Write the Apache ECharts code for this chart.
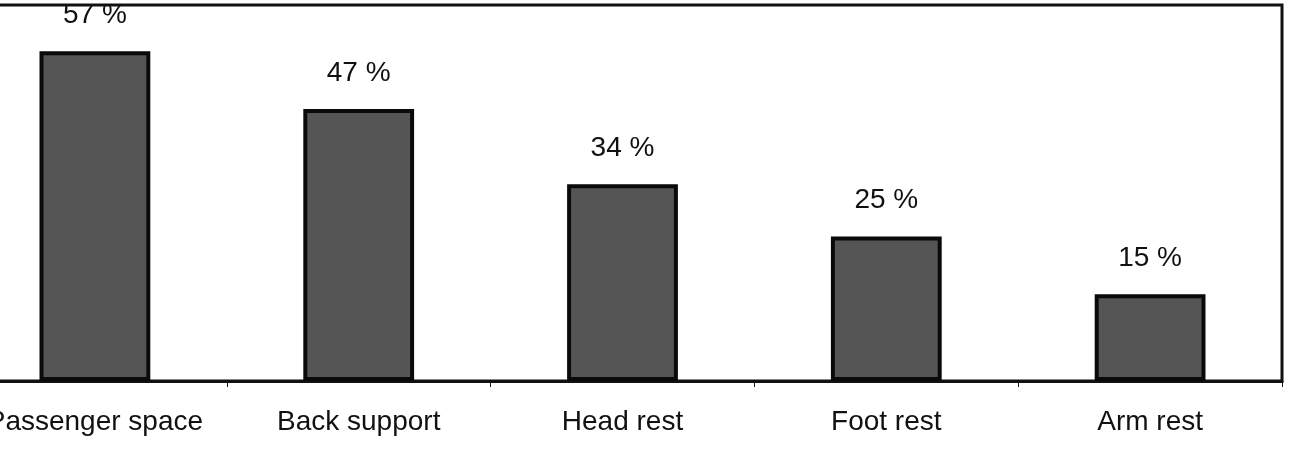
<!DOCTYPE html>
<html>
<head>
<meta charset="UTF-8">
<title>Seat comfort</title>
<script type="text/javascript" src="https://cdn.jsdelivr.net/npm/echarts@6/dist/echarts.min.js"></script>
<style>body{margin:0;background:#fff;overflow:hidden;}</style>
</head>
<body>
<!-- plot area starts left of the visible window, so shift the chart -->
<div id="mychart" style="width:1331px;height:450px;margin-left:-37px;"></div>
<script type="text/javascript">
var categories = ['Passenger space', 'Back support', 'Head rest', 'Foot rest', 'Arm rest'];
var percents = [57, 47, 34, 25, 15];

var mychart = echarts.init(document.getElementById('mychart'));

var option = {
  animation: false,
  grid: {
    left: 0, right: 12, top: 5, bottom: 69,
    show: true, borderColor: '#111', borderWidth: 3, backgroundColor: '#fff'
  },
  xAxis: {
    type: 'category',
    data: categories,
    axisLine: { lineStyle: { color: '#111', width: 3 } },
    axisTick: { show: true, interval: 0, length: 6, lineStyle: { color: '#111', width: 1 } },
    axisLabel: { interval: 0, hideOverlap: false, color: '#111', fontSize: 28, fontFamily: 'Liberation Sans', margin: 27 }
  },
  yAxis: {
    type: 'value',
    min: 0, max: 65,
    show: false,
    splitLine: { show: false }
  },
  series: [{
    name: 'percent',
    type: 'bar',
    data: percents,
    barWidth: '42%',
    itemStyle: { color: '#555555', borderColor: '#0a0a0a', borderWidth: 4 },
    label: {
      show: true,
      position: 'top',
      distance: 22,
      color: '#111',
      fontSize: 28,
      fontFamily: 'Liberation Sans',
      formatter: '{c} %'
    }
  }]
};

mychart.setOption(option);
</script>
</body>
</html>
